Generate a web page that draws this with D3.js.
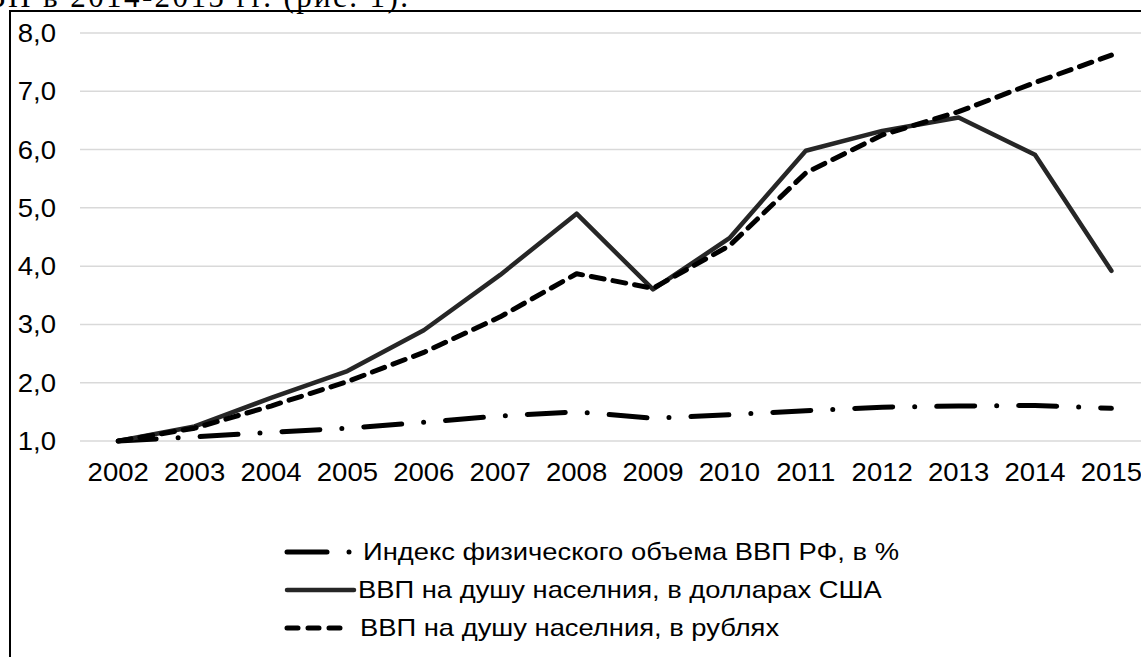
<!DOCTYPE html>
<html lang="ru">
<head>
    <meta charset="UTF-8">
    <script src="https://d3js.org/d3.v7.min.js"></script>
    <title>ВВП на душу населения</title>
    <style>
        body {
            margin: 0;
            background-color: #ffffff;
            overflow: hidden;
        }
        text {
            font-family: "Liberation Sans", Arial, sans-serif;
            fill: #000;
        }
    </style>
</head>
<body>
    <svg id="chart" width="1141" height="657"></svg>

    <script>
        // data
        const years = ["2002", "2003", "2004", "2005", "2006", "2007", "2008",
                       "2009", "2010", "2011", "2012", "2013", "2014", "2015"];
        const indexVolume = [1.0, 1.07, 1.15, 1.22, 1.32, 1.43, 1.50, 1.39, 1.45, 1.52, 1.58, 1.60, 1.61, 1.56];
        const gdpUsd = [1.0, 1.25, 1.74, 2.2, 2.9, 3.85, 4.9, 3.6, 4.48, 5.98, 6.32, 6.55, 5.91, 3.92];
        const gdpRub = [1.0, 1.22, 1.6, 2.02, 2.52, 3.13, 3.87, 3.62, 4.35, 5.6, 6.25, 6.65, 7.15, 7.62];
        const yTicks = [1, 2, 3, 4, 5, 6, 7, 8];
        const seriesNames = [
            "Индекс физического объема ВВП РФ, в %",
            "ВВП на душу населния, в долларах США",
            "ВВП на душу населния, в рублях"
        ];

        const svg = d3.select("#chart");

        // helper: place a horizontally stretched text at (x, y)
        const addText = (parent, x, y, str, anchor, size, sx) => {
            parent.append("g")
                .attr("transform", `translate(${x},${y}) scale(${sx},1)`)
                .append("text")
                .attr("dy", "0.36em")
                .attr("text-anchor", anchor)
                .style("font-size", size + "px")
                .text(str);
        };

        // cropped line of the page text above the figure (justified paragraph)
        svg.append("text")
            .attr("x", -15)
            .attr("y", 7)
            .attr("textLength", 423)
            .attr("lengthAdjust", "spacing")
            .style("font-family", "'Liberation Serif', 'Times New Roman', serif")
            .style("font-size", "31px")
            .text("ВП в 2014-2015 гг. (рис. 1).");

        // figure frame (only top and left edges are inside the picture)
        svg.append("path")
            .attr("d", "M10,700 L10,11 L1200,11")
            .attr("fill", "none")
            .attr("stroke", "#000")
            .attr("stroke-width", 2);

        const x = d3.scaleBand()
            .domain(years)
            .range([80, 80 + 14 * 76.4]);
        const xc = d => x(d) + x.bandwidth() / 2;

        const y = d3.scaleLinear()
            .domain([1, 8])
            .range([441, 33]);

        // gridlines
        svg.append("g")
            .selectAll("line")
            .data(yTicks)
            .join("line")
            .attr("x1", 80)
            .attr("x2", 1200)
            .attr("y1", d => y(d))
            .attr("y2", d => y(d))
            .attr("stroke", "#d9d9d9")
            .attr("stroke-width", 1.5);

        // y axis labels
        const yLabels = svg.append("g");
        yTicks.forEach(t => addText(yLabels, 56, y(t), d3.format(".1f")(t).replace(".", ","), "end", 25, 1.1));

        // x axis labels
        const xLabels = svg.append("g");
        years.forEach(yr => addText(xLabels, xc(yr), 472, yr, "middle", 25, 1.1));

        const styles = [
            { values: indexVolume, color: "#000", width: 5, dash: "38,22,0,22" },
            { values: gdpUsd, color: "#262626", width: 4.5, dash: null },
            { values: gdpRub, color: "#000", width: 5, dash: "13,9" }
        ];

        const line = d3.line()
            .x((d, i) => xc(years[i]))
            .y(d => y(d));

        styles.forEach(s => {
            svg.append("path")
                .datum(s.values)
                .attr("d", line)
                .attr("fill", "none")
                .attr("stroke", s.color)
                .attr("stroke-width", s.width)
                .attr("stroke-linejoin", "round")
                .attr("stroke-linecap", "round")
                .attr("stroke-dasharray", s.dash);
        });

        // legend
        const legendY = [552, 590, 628];
        const legendTextX = [363, 358, 360];
        const legend = svg.append("g");
        seriesNames.forEach((name, i) => {
            const s = styles[i];
            if (i === 0) {
                legend.append("line")
                    .attr("x1", 287).attr("x2", 327)
                    .attr("y1", legendY[i]).attr("y2", legendY[i])
                    .attr("stroke", s.color)
                    .attr("stroke-width", s.width)
                    .attr("stroke-linecap", "round");
                legend.append("circle")
                    .attr("cx", 349).attr("cy", legendY[i])
                    .attr("r", 2.5)
                    .attr("fill", s.color);
            } else {
                legend.append("line")
                    .attr("x1", 287).attr("x2", i === 1 ? 354 : 346)
                    .attr("y1", legendY[i]).attr("y2", legendY[i])
                    .attr("stroke", s.color)
                    .attr("stroke-width", s.width)
                    .attr("stroke-linecap", "round")
                    .attr("stroke-dasharray", i === 2 ? "11,10" : null);
            }
            addText(legend, legendTextX[i], legendY[i], name, "start", 23, 1.19);
        });
    </script>
</body>
</html>
